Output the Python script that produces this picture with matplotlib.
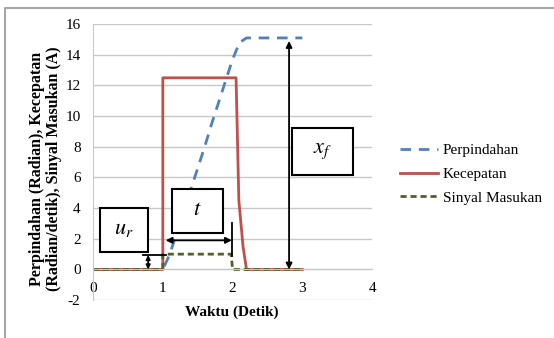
import matplotlib
matplotlib.use('Agg')
import matplotlib.pyplot as plt
from matplotlib.lines import Line2D
from matplotlib.patches import Rectangle

plt.rcParams['font.family'] = ['Liberation Serif', 'DejaVu Serif']
plt.rcParams['mathtext.fontset'] = 'stix'
plt.rcParams['axes.unicode_minus'] = False

# time (s) and responses
t_pos = [0.0, 1.0, 1.1, 1.2, 1.3, 1.4, 1.5, 1.6, 1.7, 1.8, 1.9, 2.0, 2.1, 2.2, 3.0]
perpindahan = [0.0, 0.0, 1.0, 2.4, 3.8, 5.2, 6.6, 8.0, 9.5, 10.9, 12.3, 13.7, 14.8, 15.1, 15.1]

t_vel = [0.0, 1.0, 1.0, 2.05, 2.09, 2.15, 2.2, 3.0]
kecepatan = [0.0, 0.0, 12.5, 12.5, 4.5, 1.5, 0.0, 0.0]

t_in = [0.0, 1.0, 1.0, 1.98, 2.0, 3.0]
sinyal = [0.0, 0.0, 1.0, 1.0, 0.0, 0.0]

x_ticks = [0, 1, 2, 3, 4]
y_ticks = [-2, 0, 2, 4, 6, 8, 10, 12, 14, 16]

fig = plt.figure(figsize=(5.54, 3.38), dpi=100)
ax = fig.add_axes([0.168, 0.112, 0.5036, 0.8166])

ax.plot(t_pos, perpindahan, color='#4F81BD', lw=2, dashes=(3.8, 2.8), label='Perpindahan')
ax.plot(t_vel, kecepatan, color='#C0504D', lw=2, label='Kecepatan')
ax.plot(t_in, sinyal, color='#4F6228', lw=2, dashes=(2.2, 1.4), label='Sinyal Masukan')

ax.set_xlim(0, 4)
ax.set_ylim(-2, 16)
ax.set_xticks(x_ticks)
ax.set_yticks(y_ticks)
ax.grid(axis='y', color='#C8C8C8', lw=1)
ax.set_axisbelow(True)
for s in ['top', 'right']:
    ax.spines[s].set_visible(False)
ax.spines['left'].set_color('#C8C8C8')
ax.spines['bottom'].set_color('#C8C8C8')
ax.spines['bottom'].set_position(('data', 0))
ax.tick_params(length=0, labelsize=11)
ax.tick_params(axis='x', pad=9)
ax.tick_params(axis='y', pad=9)

# annotation boxes
def label_box(x0, y0, x1, y1, txt, size):
    ax.add_patch(Rectangle((x0, y0), x1 - x0, y1 - y0, facecolor='white',
                           edgecolor='black', lw=1.5, zorder=5))
    ax.text((x0 + x1) / 2, (y0 + y1) / 2, txt, ha='center', va='center',
            fontsize=size, zorder=6)

label_box(0.10, 1.17, 0.79, 4.04, r'$u_r$', 16)
label_box(1.13, 2.35, 1.86, 5.28, r'$t$', 16)
label_box(2.85, 6.19, 3.73, 9.25, r'$x_f$', 16)

arrow = dict(arrowstyle='<|-|>', color='black', lw=1.3, mutation_scale=9,
             shrinkA=0, shrinkB=0)
ax.annotate('', xy=(2.81, 14.9), xytext=(2.81, 0.0), arrowprops=arrow, zorder=7)
ax.annotate('', xy=(1.04, 1.9), xytext=(1.99, 1.9), arrowprops=arrow, zorder=7)
ax.plot([1.99, 1.99], [0.85, 3.0], color='black', lw=1.3, zorder=7)
ax.annotate('', xy=(0.79, 0.95), xytext=(0.79, 0.0),
            arrowprops=dict(arrowstyle='<|-|>', color='black', lw=1.3,
                            mutation_scale=6, shrinkA=0, shrinkB=0), zorder=7)
ax.plot([0.72, 1.04], [0.95, 0.95], color='black', lw=1.3, zorder=7)

fig.text(0.419, 0.077, 'Waktu (Detik)', ha='center', va='center',
         fontsize=11, fontweight='bold')
fig.text(0.082, 0.50, 'Perpindahan (Radian), Kecepatan\n(Radian/detik), Sinyal Masukan (A)',
         ha='center', va='center', rotation=90, fontsize=11.5,
         fontweight='bold', linespacing=1.1)

ax.legend(loc='center left', bbox_to_anchor=(0.722, 0.485),
          bbox_transform=fig.transFigure, frameon=False, fontsize=11,
          handlelength=2.5, handletextpad=0.3, labelspacing=0.65,
          borderpad=0, borderaxespad=0)

# chart border
fig.add_artist(Line2D([5 / 554, 5 / 554, 1.0], [0.0, 1 - 8 / 338, 1 - 8 / 338],
                      transform=fig.transFigure, color='#A6A6A6', lw=1.5))

fig.savefig('out.png', dpi=100)
